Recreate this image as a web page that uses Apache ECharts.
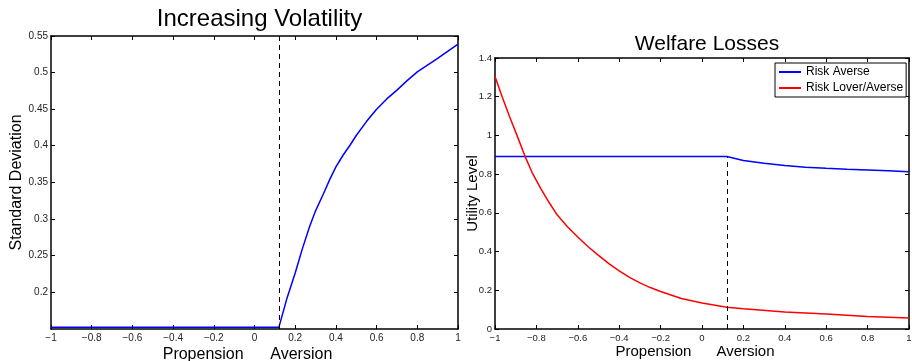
<!DOCTYPE html>
<html>
<head>
<meta charset="utf-8">
<script src="https://cdn.jsdelivr.net/npm/echarts@6/dist/echarts.min.js"></script>
<style>
  html, body { margin: 0; padding: 0; background: #fff; }
  #chart { width: 912px; height: 361px; }
</style>
</head>
<body>
<div id="chart"></div>
<script>
// left panel: standard deviation vs propension/aversion
const volX = [-1, 0.12, 0.16, 0.2, 0.235, 0.27, 0.30, 0.34, 0.37, 0.4, 0.435, 0.47, 0.5, 0.55, 0.6, 0.65, 0.7, 0.75, 0.8, 0.9, 1.0];
const volY = [0.152, 0.152, 0.192, 0.226, 0.259, 0.289, 0.311, 0.335, 0.354, 0.371, 0.387, 0.401, 0.414, 0.433, 0.450, 0.464, 0.476, 0.489, 0.501, 0.5195, 0.539];

// right panel: utility levels
const averseX = [-1, 0.12, 0.2, 0.3, 0.4, 0.5, 0.6, 0.7, 0.8, 0.9, 1.0];
const averseY = [0.8915, 0.8915, 0.871, 0.856, 0.845, 0.836, 0.830, 0.825, 0.821, 0.817, 0.8125];
const loverX = [-1, -0.965, -0.93, -0.89, -0.855, -0.82, -0.78, -0.74, -0.7, -0.65, -0.6, -0.55, -0.5, -0.45, -0.4, -0.35, -0.3, -0.25, -0.2, -0.1, 0, 0.12, 0.2, 0.4, 0.6, 0.8, 1.0];
const loverY = [1.305, 1.198, 1.098, 0.99, 0.892, 0.807, 0.728, 0.656, 0.590, 0.528, 0.475, 0.425, 0.380, 0.338, 0.300, 0.267, 0.238, 0.214, 0.194, 0.158, 0.134, 0.112, 0.104, 0.088, 0.0775, 0.065, 0.0568];

const kinkX = 0.12;
const volTicks = [0.2, 0.25, 0.3, 0.35, 0.4, 0.45, 0.5, 0.55];

const font = 'Liberation Sans, Arial, sans-serif';
const pairs = (xs, ys) => xs.map((x, i) => [x, ys[i]]);
const minus = v => String(+v.toFixed(2)).replace('-', '\u2212');
const axisLine = { show: true, onZero: false, lineStyle: { color: '#000', width: 1.5 } };

function xAx(grid, pos, show, fs, gap) {
  return {
    type: 'value', gridIndex: grid, position: pos, min: -1, max: 1, interval: 0.2,
    axisLine: axisLine,
    axisTick: { show: true, inside: true, length: 4, lineStyle: { color: '#000' } },
    axisLabel: { show: show, color: '#222', fontSize: fs, fontFamily: font, margin: 4, formatter: minus },
    splitLine: { show: false },
    name: show ? 'Propension      Aversion' : '',
    nameLocation: 'middle', nameGap: gap, nameMoveOverlap: false,
    nameTextStyle: { color: '#000', fontSize: fs === 10 ? 16 : 15, fontFamily: font, padding: [0, 14, 0, 0] }
  };
}

const option = {
  animation: false,
  backgroundColor: '#fff',
  title: [
    { text: 'Increasing Volatility', left: 254.5, textAlign: 'center', top: 2,
      textStyle: { color: '#000', fontSize: 24, fontWeight: 'normal', fontFamily: font } },
    { text: 'Welfare Losses', left: 702, textAlign: 'center', top: 29,
      textStyle: { color: '#000', fontSize: 21, fontWeight: 'normal', fontFamily: font } }
  ],
  legend: {
    data: ['Risk Averse', 'Risk Lover/Averse'],
    orient: 'vertical', left: 775, top: 63,
    backgroundColor: '#fff', borderColor: '#000', borderWidth: 1,
    padding: [3, 3, 3, 4], itemGap: 4,
    icon: 'rect', itemWidth: 22, itemHeight: 2,
    textStyle: { color: '#000', fontSize: 12, fontFamily: font, lineHeight: 12 }
  },
  grid: [
    { left: 51, top: 36, width: 407, height: 293, outerBoundsMode: 'none' },
    { left: 495, top: 58, width: 414, height: 271, outerBoundsMode: 'none' }
  ],
  xAxis: [
    xAx(0, 'bottom', true, 10, 17.5),
    xAx(0, 'top', false, 10, 0),
    xAx(1, 'bottom', true, 9.5, 15),
    xAx(1, 'top', false, 9.5, 0)
  ],
  yAxis: [
    {
      type: 'value', gridIndex: 0, position: 'left', min: 0.1495, max: 0.55,
      axisLine: axisLine,
      axisTick: { show: true, inside: true, length: 4, customValues: volTicks, lineStyle: { color: '#000' } },
      axisLabel: { color: '#222', fontSize: 10, fontFamily: font, margin: 3, customValues: volTicks,
        formatter: v => String(+v.toFixed(2)) },
      splitLine: { show: false },
      name: 'Standard Deviation', nameLocation: 'middle', nameGap: 26, nameMoveOverlap: false,
      nameTextStyle: { color: '#000', fontSize: 16, fontFamily: font }
    },
    {
      type: 'value', gridIndex: 0, position: 'right', min: 0.1495, max: 0.55,
      axisLine: axisLine,
      axisTick: { show: true, inside: true, length: 4, customValues: volTicks, lineStyle: { color: '#000' } },
      axisLabel: { show: false }, splitLine: { show: false }
    },
    {
      type: 'value', gridIndex: 1, position: 'left', min: 0, max: 1.4, interval: 0.2,
      axisLine: axisLine,
      axisTick: { show: true, inside: true, length: 4, lineStyle: { color: '#000' } },
      axisLabel: { color: '#222', fontSize: 9.5, fontFamily: font, margin: 3,
        formatter: v => String(+v.toFixed(1)) },
      splitLine: { show: false },
      name: 'Utility Level', nameLocation: 'middle', nameGap: 14.5, nameMoveOverlap: false,
      nameTextStyle: { color: '#000', fontSize: 15, fontFamily: font }
    },
    {
      type: 'value', gridIndex: 1, position: 'right', min: 0, max: 1.4, interval: 0.2,
      axisLine: axisLine,
      axisTick: { show: true, inside: true, length: 4, lineStyle: { color: '#000' } },
      axisLabel: { show: false }, splitLine: { show: false }
    }
  ],
  series: [
    {
      name: 'Std Dev', type: 'line', xAxisIndex: 0, yAxisIndex: 0,
      data: pairs(volX, volY), showSymbol: false, symbol: 'none',
      lineStyle: { color: '#0000ff', width: 1.5 },
      markLine: {
        silent: true, symbol: 'none', label: { show: false },
        lineStyle: { color: '#000', type: [5, 4], width: 1 },
        data: [[{ coord: [kinkX, 0.1495] }, { coord: [kinkX, 0.55] }]]
      }
    },
    {
      name: 'Risk Averse', type: 'line', xAxisIndex: 2, yAxisIndex: 2,
      data: pairs(averseX, averseY), showSymbol: false, symbol: 'none',
      lineStyle: { color: '#0000ff', width: 1.5 }, itemStyle: { color: '#0000ff' },
      markLine: {
        silent: true, symbol: 'none', label: { show: false },
        lineStyle: { color: '#000', type: [5, 4], width: 1 },
        data: [[{ coord: [kinkX, 0] }, { coord: [kinkX, averseY[1]] }]]
      }
    },
    {
      name: 'Risk Lover/Averse', type: 'line', xAxisIndex: 2, yAxisIndex: 2,
      data: pairs(loverX, loverY), showSymbol: false, symbol: 'none',
      lineStyle: { color: '#ff0000', width: 1.5 }, itemStyle: { color: '#ff0000' }
    }
  ]
};

const chart = echarts.init(document.getElementById('chart'), null, { renderer: 'canvas' });
chart.setOption(option);
</script>
</body>
</html>
